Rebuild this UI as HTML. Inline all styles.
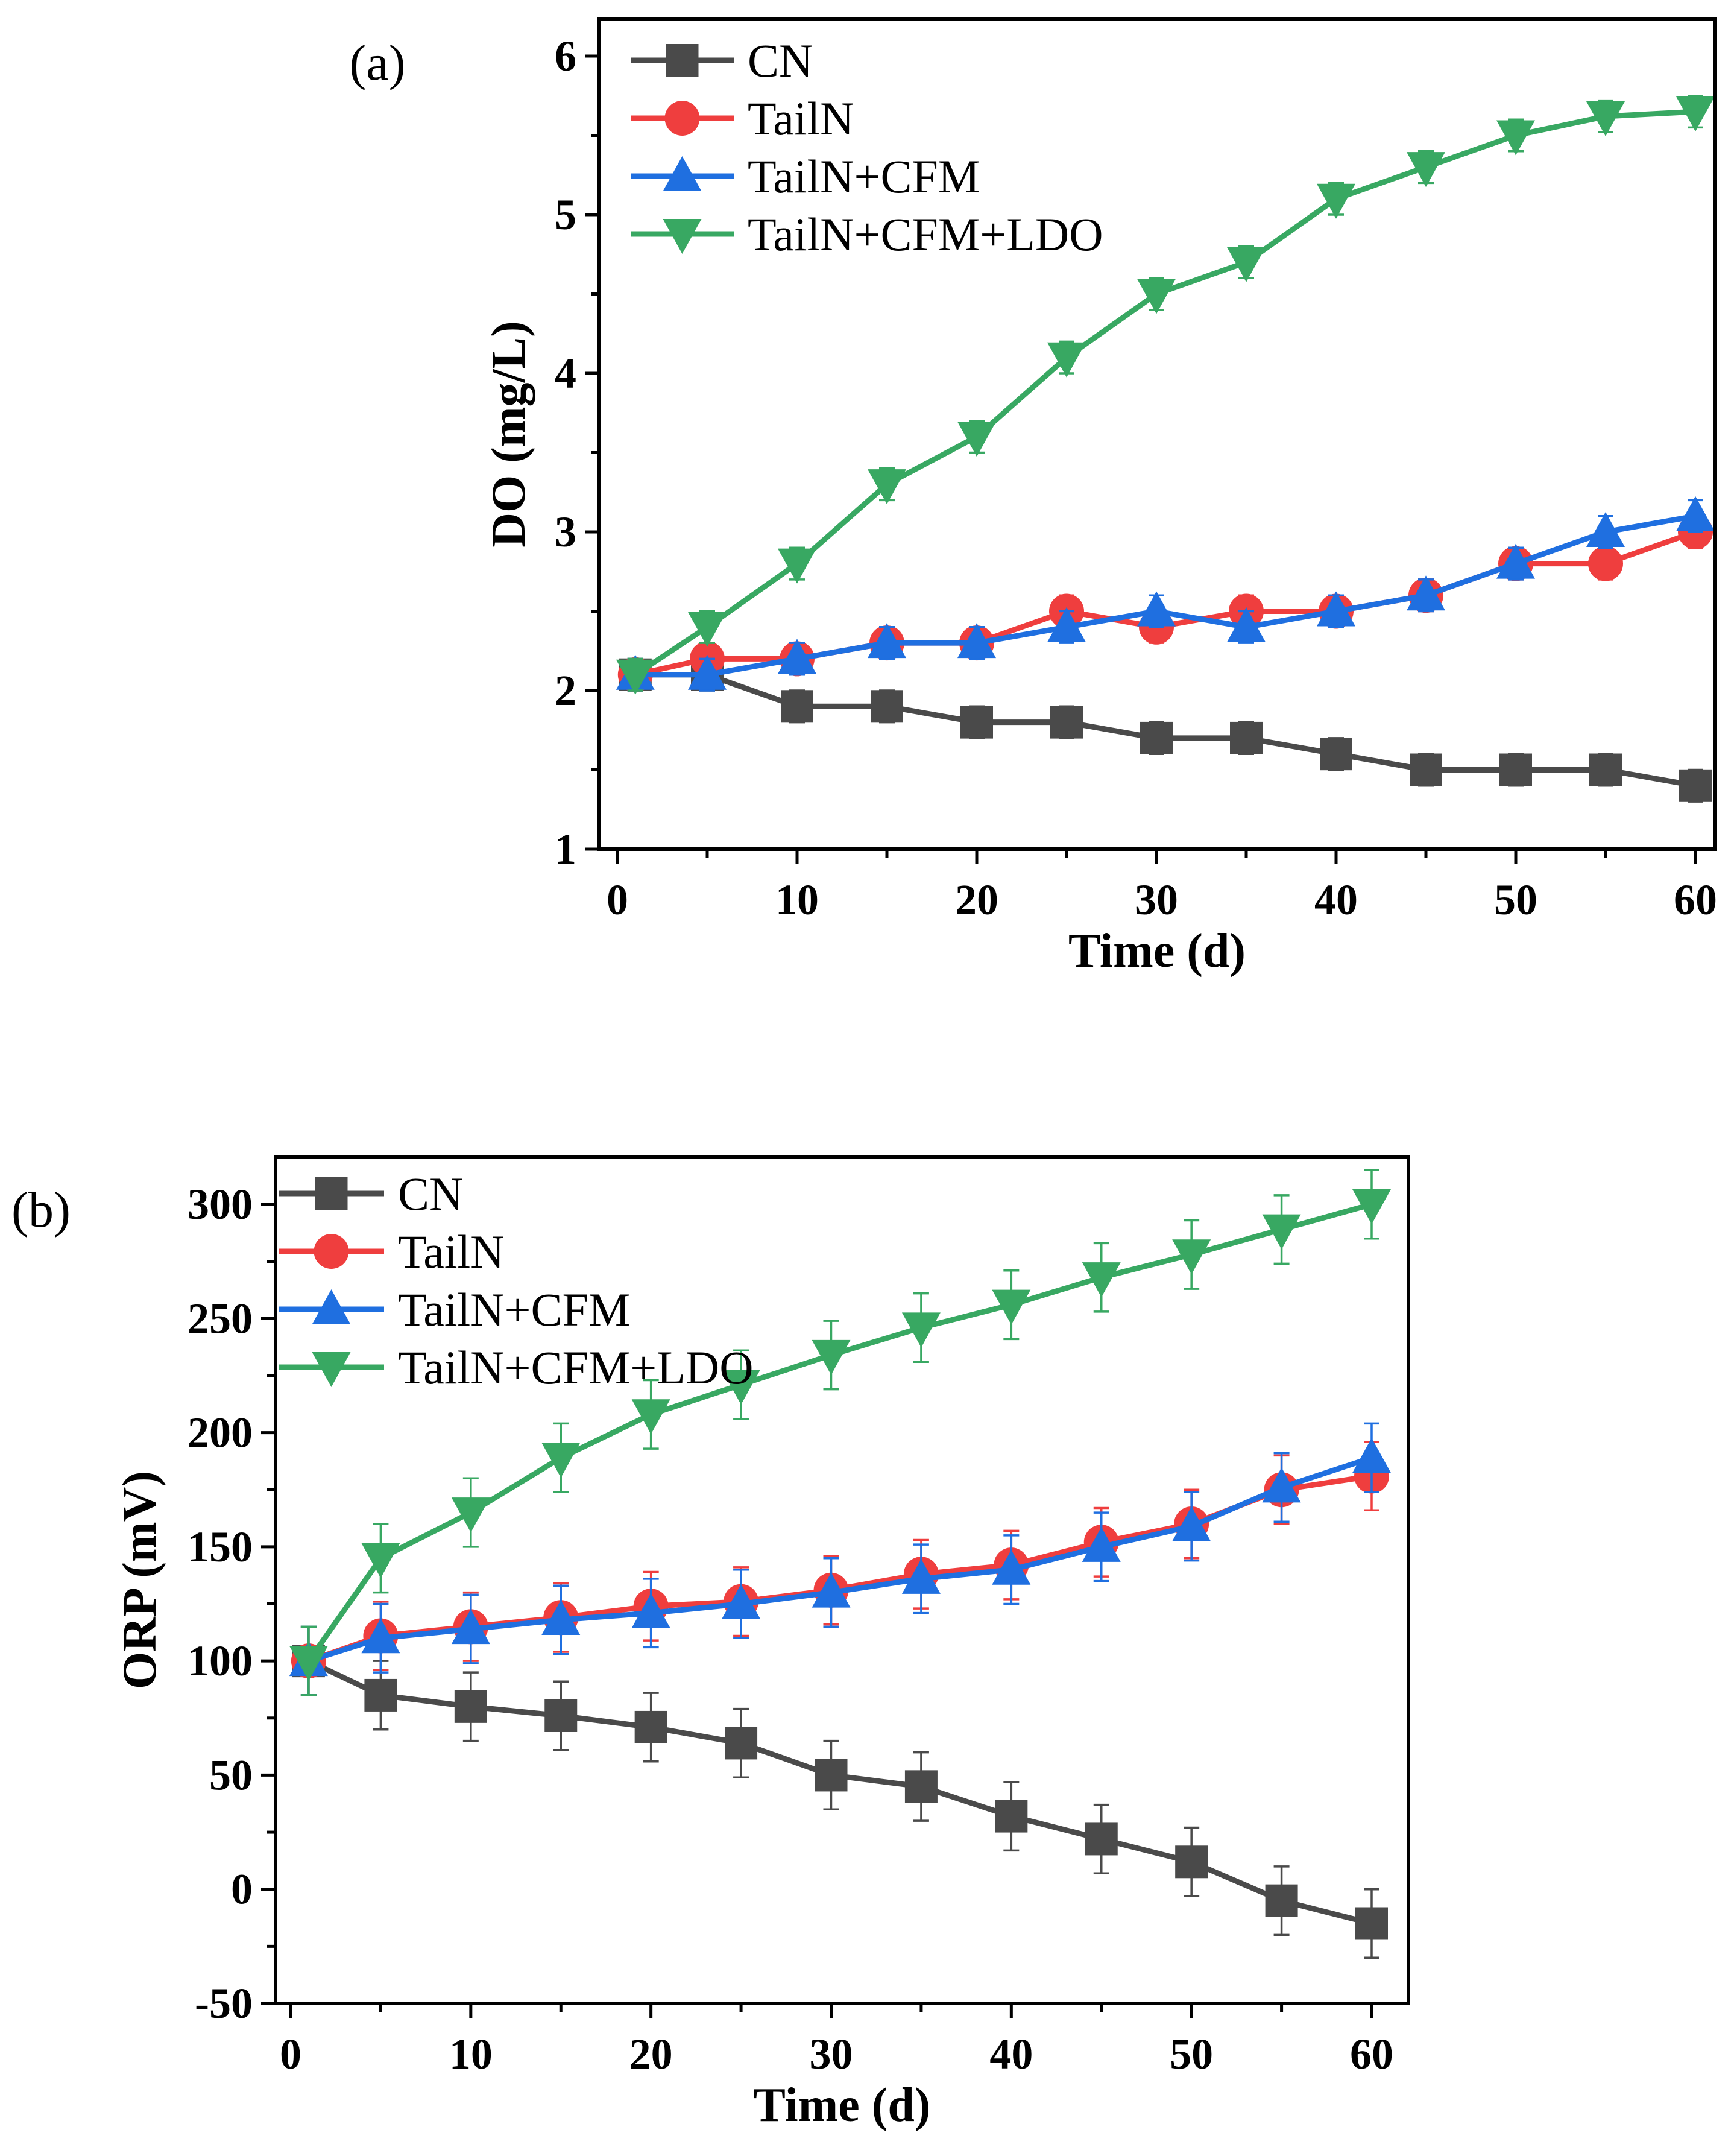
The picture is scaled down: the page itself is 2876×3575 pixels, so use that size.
<!DOCTYPE html>
<html><head><meta charset="utf-8"><style>
html,body{margin:0;padding:0;background:#fff;}
svg, svg text{font-family:"Liberation Serif","Times New Roman",serif;}
</style></head><body>
<svg id="fig" width="2876" height="3570" viewBox="0 0 2876 3570" xmlns="http://www.w3.org/2000/svg" font-family="Liberation Serif, serif">
<rect width="2876" height="3570" fill="#fff"/>
</svg>
<script>
const days=[1,5,10,15,20,25,30,35,40,45,50,55,60];
const seriesNames=["CN","TailN","TailN+CFM","TailN+CFM+LDO"];
const doCN=[2.1,2.1,1.9,1.9,1.8,1.8,1.7,1.7,1.6,1.5,1.5,1.5,1.4];
const doTailN=[2.1,2.2,2.2,2.3,2.3,2.5,2.4,2.5,2.5,2.6,2.8,2.8,3.0];
const doCFM=[2.1,2.1,2.2,2.3,2.3,2.4,2.5,2.4,2.5,2.6,2.8,3.0,3.1];
const doLDO=[2.1,2.4,2.8,3.3,3.6,4.1,4.5,4.7,5.1,5.3,5.5,5.62,5.65];
const doErr=[0.1,0.1,0.1,0.1,0.1,0.1,0.1,0.1,0.1,0.1,0.1,0.1,0.1];
const orpCN=[100,85,80,76,71,64,50,45,32,22,12,-5,-15];
const orpTailN=[100,111,115,119,124,126,131,138,142,152,160,175,181];
const orpCFM=[100,110,114,118,121,125,130,136,140,150,159,176,189];
const orpLDO=[100,145,165,189,208,221,234,246,256,268,278,289,300];
const orpErr=[15,15,15,15,15,15,15,15,15,15,15,15,15];
const xTicks=[0,10,20,30,40,50,60];
const doTicks=[1,2,3,4,5,6];
const orpTicks=[-50,0,50,100,150,200,250,300];

const colors=["#4a4a4a","#ef3e3e","#1f6fe0","#38a862"];
const markers=["square","circle","up","down"];
const FF="Liberation Serif, serif";
const NS="http://www.w3.org/2000/svg";
const svg=document.getElementById('fig');
function mk(tag,attrs,parent){const e=document.createElementNS(NS,tag);for(const k in attrs)e.setAttribute(k,attrs[k]);if(tag==='text')e.setAttribute('font-family',FF);(parent||svg).appendChild(e);return e;}
function marker(g,type,x,y,c){
  let e;const s=27;
  if(type==="square")e=mk('rect',{x:x-s,y:y-s,width:2*s,height:2*s,fill:c},g);
  else if(type==="circle")e=mk('circle',{cx:x,cy:y,r:s+2,fill:c},g);
  else if(type==="up")e=mk('polygon',{points:`${x},${y-s-6} ${x+s+5},${y+s-2} ${x-s-5},${y+s-2}`,fill:c},g);
  else e=mk('polygon',{points:`${x},${y+s+6} ${x+s+5},${y-s+2} ${x-s-5},${y-s+2}`,fill:c},g);
  
  
}
function chart(cfg){
  const {L,R,T,B,x0,x60,yA,yB,vA,vB,data,err,yTicks,minorY,ytitle,label,labelPos,leg,ytitleX,prefix}=cfg;
  const sx=v=>x0+(v-0)*(x60-x0)/60;
  const sy=v=>yA+(v-vA)*(yB-yA)/(vB-vA);
  const g=mk('g',{});
  
  
  data.forEach((arr,i)=>{
    const sg=mk('g',{},g);
    
    
    arr.forEach((v,j)=>{
      const x=sx(days[j]),y1=sy(v+err[j]),y2=sy(v-err[j]);
      const eb=mk('path',{d:`M${x},${y1}V${y2}M${x-13},${y1}H${x+13}M${x-13},${y2}H${x+13}`,stroke:colors[i],'stroke-width':3.5,fill:'none'},sg);
      
      
    });
    const pts=arr.map((v,j)=>sx(days[j])+','+sy(v)).join(' ');
    const pl=mk('polyline',{points:pts,fill:'none',stroke:colors[i],'stroke-width':9,'stroke-linejoin':'round'},sg);
    
    
    arr.forEach((v,j)=>marker(sg,markers[i],sx(days[j]),sy(v),colors[i]));
  });
  const fr=mk('rect',{x:L,y:T,width:R-L,height:B-T,fill:'none',stroke:'#000','stroke-width':6},g);
  
  
  xTicks.forEach(t=>{
    const x=sx(t);
    mk('line',{x1:x,y1:B,x2:x,y2:B+24,stroke:'#000','stroke-width':5},g);
    const tx=mk('text',{x:x,y:B+108,'font-size':72,'font-weight':'bold','text-anchor':'middle'},g);
    tx.textContent=t;
    
    
    if(t<60)mk('line',{x1:sx(t+5),y1:B,x2:sx(t+5),y2:B+14,stroke:'#000','stroke-width':5},g);
  });
  yTicks.forEach((t,k)=>{
    const y=sy(t);
    mk('line',{x1:L,y1:y,x2:L-24,y2:y,stroke:'#000','stroke-width':5},g);
    const tx=mk('text',{x:L-38,y:y+24,'font-size':72,'font-weight':'bold','text-anchor':'end'},g);
    tx.textContent=t;
    
    
    if(k<yTicks.length-1)mk('line',{x1:L,y1:sy(t+minorY),x2:L-14,y2:sy(t+minorY),stroke:'#000','stroke-width':5},g);
  });
  const xt=mk('text',{x:(L+R)/2,y:B+195,'font-size':80,'font-weight':'bold','text-anchor':'middle'},g);
  xt.textContent='Time (d)';
  
  
  const yt=mk('text',{x:0,y:0,'font-size':80,'font-weight':'bold','text-anchor':'middle',transform:`translate(${ytitleX},${(T+B)/2}) rotate(-90)`},g);
  yt.textContent=ytitle;
  
  
  const lb=mk('text',{x:labelPos[0],y:labelPos[1],'font-size':84,'text-anchor':'middle'},g);
  lb.textContent=label;
  
  
  const lg=mk('g',{},g);
  
  
  seriesNames.forEach((n,i)=>{
    const y=leg.y0+i*leg.dy;
    const eg=mk('g',{},lg);
    
    
    mk('line',{x1:leg.x1,y1:y,x2:leg.x2,y2:y,stroke:colors[i],'stroke-width':9},eg);
    marker(eg,markers[i],(leg.x1+leg.x2)/2,y,colors[i]);
    const t=mk('text',{x:leg.tx,y:y+27,'font-size':78},eg);
    t.textContent=n;
  });
}
chart({prefix:'do',L:994,R:2844,T:32,B:1408,x0:1024,x60:2812,yA:1408,yB:93,vA:1,vB:6,
  data:[doCN,doTailN,doCFM,doLDO],err:doErr,yTicks:doTicks,minorY:0.5,ytitle:'DO (mg/L)',ytitleX:870,
  label:'(a)',labelPos:[626,132],leg:{x1:1046,x2:1217,tx:1240,y0:100,dy:96}});
chart({prefix:'orp',L:457,R:2336,T:1918,B:3322,x0:482,x60:2275,yA:3322,yB:1997,vA:-50,vB:300,
  data:[orpCN,orpTailN,orpCFM,orpLDO],err:orpErr,yTicks:orpTicks,minorY:25,ytitle:'ORP (mV)',ytitleX:258,
  label:'(b)',labelPos:[68,2034],leg:{x1:462,x2:637,tx:660,y0:1979,dy:96}});
</script>
</body></html>
